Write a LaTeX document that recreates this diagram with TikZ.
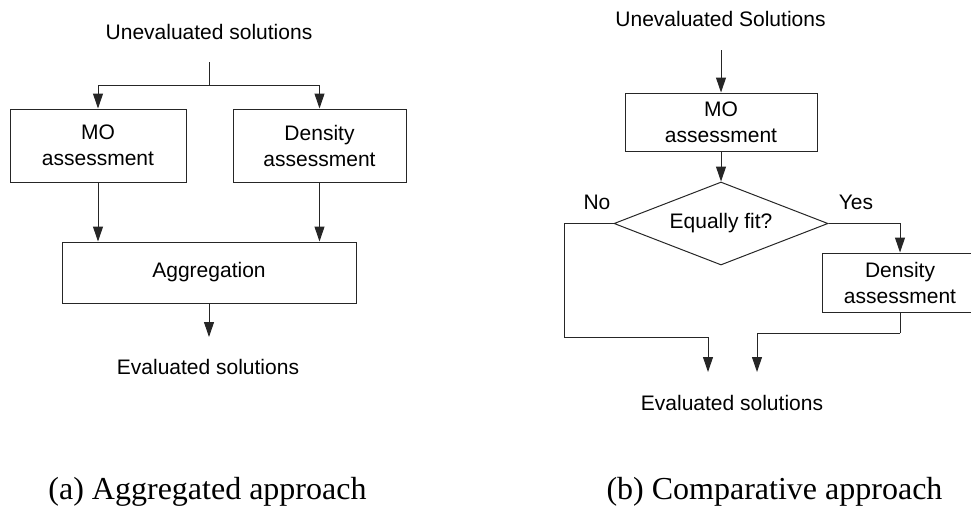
\documentclass[tikz,border=0pt]{standalone}
\usepackage{fontspec}
\setmainfont{Liberation Sans}
\newfontfamily\capfont{Liberation Serif}
\usetikzlibrary{arrows.meta,shapes.geometric}

\tikzset{
  flow/.style={draw=black!85, line width=1pt},
  arr/.style={flow, -{Triangle[length=15pt,width=10pt]}},
  procbox/.style={draw=black!85, line width=1pt, rectangle, inner sep=0pt,
    align=center, font=\fontsize{21}{26}\selectfont},
  lbl/.style={inner sep=0pt, font=\fontsize{21}{26}\selectfont},
  decision/.style={draw=black!85, line width=1pt, diamond, aspect=2.58,
    inner sep=0pt, minimum width=214pt, minimum height=83pt,
    font=\fontsize{21}{26}\selectfont},
  caption/.style={inner sep=0pt, font=\capfont\fontsize{32}{38}\selectfont}
}

\begin{document}
\begin{tikzpicture}[x=1pt,y=-1pt]
\useasboundingbox (0,0) rectangle (971,509);
\clip (0,0) rectangle (971,509);

% ---------- (a) aggregated approach ----------
\node[lbl] (inA) at (209,32) {Unevaluated solutions};
\coordinate (forkTop) at (209,62);
\coordinate (fork) at (209,85);
\node[procbox, minimum width=176pt, minimum height=73pt] (moA) at (98,145.5) {MO\\assessment};
\node[procbox, minimum width=173pt, minimum height=73pt] (denA) at (319.5,145.5) {Density\\assessment};
\node[procbox, minimum width=294pt, minimum height=61pt] (agg) at (209,272.5) {Aggregation};
\coordinate (outA) at (209,337);
\node[lbl] (evA) at (208,367) {Evaluated solutions};

\draw[flow] (forkTop) -- (fork);
\draw[arr] (fork) -| (moA.north);
\draw[arr] (fork) -| (denA.north);
\draw[arr] (moA.south) -- (moA.south |- agg.north);
\draw[arr] (denA.south) -- (denA.south |- agg.north);
\draw[arr] (agg.south) -- (outA);

\node[caption] (capA) at (207.5,492) {(a) Aggregated approach};

% ---------- (b) comparative approach ----------
\node[lbl] (inB) at (720.5,19) {Unevaluated Solutions};
\coordinate (inTop) at (721,50);
\node[procbox, minimum width=192pt, minimum height=58pt] (moB) at (721,122) {MO\\assessment};
\node[decision] (fit) at (721,223.5) {Equally fit?};
\node[lbl] (no) at (597,202) {No};
\node[lbl] (yes) at (856,202) {Yes};
\node[procbox, minimum width=156pt, minimum height=59pt] (denB) at (900,282.5) {Density\\assessment};
\coordinate (noTurn) at (564,337);
\coordinate (noEnd) at (708,372);
\coordinate (yesTurn) at (900,333);
\coordinate (yesEnd) at (757,372);
\node[lbl] (evB) at (732,403) {Evaluated solutions};

\draw[arr] (inTop) -- (moB.north);
\draw[arr] (moB.south) -- (fit.north);
\draw[flow] (fit.west) -| (noTurn);
\draw[arr] (noTurn) -| (noEnd);
\draw[arr] (fit.east) -| (denB.north);
\draw[flow] (denB.south) -- (yesTurn);
\draw[arr] (yesTurn) -| (yesEnd);

\node[caption] (capB) at (774.5,492) {(b) Comparative approach};
\end{tikzpicture}
\end{document}
